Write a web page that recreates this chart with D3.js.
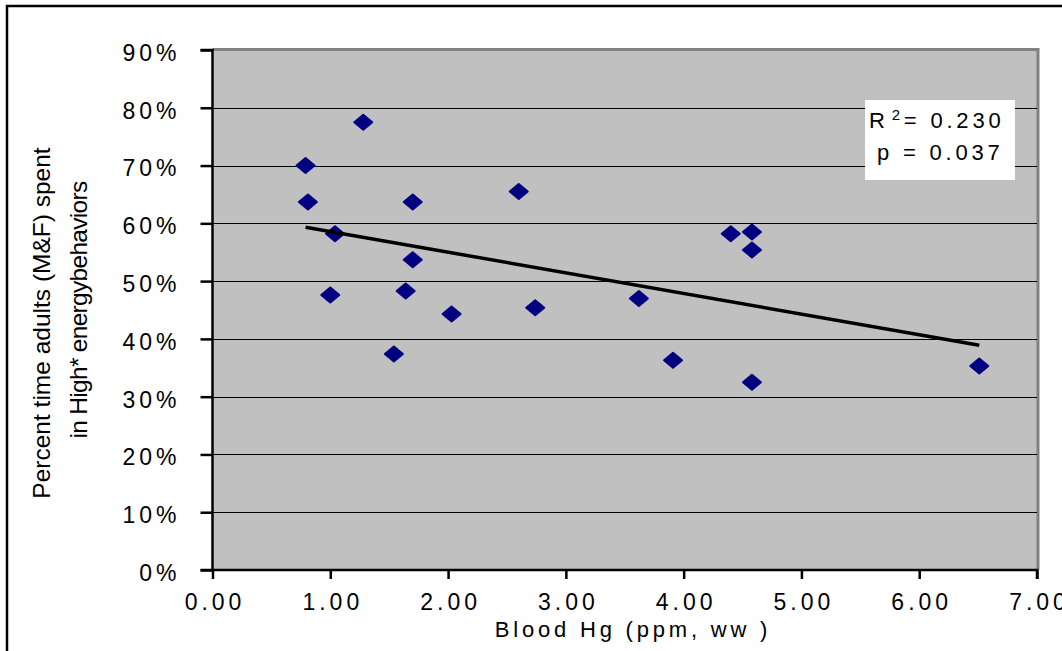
<!DOCTYPE html>
<html>
<head>
<meta charset="utf-8">
<script src="https://cdn.jsdelivr.net/npm/d3@7"></script>
<style>
  html, body { margin: 0; padding: 0; background: #fff; }
  svg { display: block; }
  text { font-family: "Liberation Sans", Arial, sans-serif; fill: #000; }
</style>
</head>
<body>
<svg id="chart" width="1062" height="651"></svg>
<script>
// Blood mercury (ppm, wet weight) per site
const bloodHg = [0.79, 0.81, 1.28, 1.04, 1.00, 1.70, 1.70, 1.64, 1.54, 2.03,
                 2.60, 2.74, 3.62, 3.91, 4.40, 4.58, 4.58, 4.58, 6.51];
// Share of time adults spent in high-energy behaviours (%)
const pctHighEnergy = [70.0, 63.7, 77.5, 58.2, 47.6, 63.7, 53.7, 48.3, 37.4, 44.3,
                       65.5, 45.4, 47.0, 36.3, 58.2, 58.5, 55.4, 32.5, 35.3];
const xTicks = [0, 1, 2, 3, 4, 5, 6, 7];
const yTicks = [0, 10, 20, 30, 40, 50, 60, 70, 80, 90];
const statLines = ["0.230", "0.037"];

const svg = d3.select("#chart");
const plot = { left: 212.5, top: 50, right: 1037, bottom: 570 };

const x = d3.scaleLinear().domain([0, 7]).range([plot.left, plot.right]);
const y = d3.scaleLinear().domain([0, 90]).range([plot.bottom, plot.top]);

// outer frame (only the left and top edges fall inside the view)
svg.append("rect")
  .attr("x", 7).attr("y", 6).attr("width", 1100).attr("height", 700)
  .attr("fill", "none").attr("stroke", "#000").attr("stroke-width", 2.5);

// plot area background with a shaded top/right edge
svg.append("rect")
  .attr("x", plot.left).attr("y", plot.top)
  .attr("width", plot.right - plot.left).attr("height", plot.bottom - plot.top)
  .attr("fill", "#c0c0c0");
svg.append("path")
  .attr("d", `M${plot.left},${plot.top - 0.5}H${plot.right + 1}V${plot.bottom}`)
  .attr("fill", "none").attr("stroke", "#808080").attr("stroke-width", 3);

// horizontal gridlines
svg.append("g").selectAll("line")
  .data(yTicks.filter(d => d > 0 && d < 90))
  .join("line")
  .attr("x1", plot.left).attr("x2", plot.right)
  .attr("y1", d => Math.round(y(d)) + 0.5).attr("y2", d => Math.round(y(d)) + 0.5)
  .attr("stroke", "#000").attr("stroke-width", 1.2);

// axes
const yAxis = d3.axisLeft(y).tickValues(yTicks).tickSize(12).tickPadding(20)
  .tickFormat(d => d + "%");
const xAxis = d3.axisBottom(x).tickValues(xTicks).tickSize(9).tickPadding(15)
  .tickFormat(d3.format(".2f"));

const gy = svg.append("g").attr("transform", `translate(${plot.left},0)`).call(yAxis);
const gx = svg.append("g").attr("transform", `translate(0,${plot.bottom})`).call(xAxis);

[gy, gx].forEach(g => {
  g.select(".domain").attr("stroke", "#000").attr("stroke-width", 2.5);
  g.selectAll(".tick line").attr("stroke", "#000").attr("stroke-width", 2.5);
  g.selectAll(".tick text")
    .attr("fill", "#000")
    .style("font-family", '"Liberation Sans", Arial, sans-serif')
    .style("font-size", "23px")
    .style("letter-spacing", "4px");
});
gy.select(".domain").attr("d", `M-12,${plot.top}H0V${plot.bottom}`);
gy.selectAll(".tick text").attr("dy", "0.45em");
gx.select(".domain").attr("d", `M${plot.left - 12},0H${plot.right}V9`);
gx.selectAll(".tick text").attr("dx", "2px");

// least-squares trend line over the observed range
const n = bloodHg.length;
const mx = d3.mean(bloodHg), my = d3.mean(pctHighEnergy);
let sxy = 0, sxx = 0;
for (let i = 0; i < n; i++) {
  sxy += (bloodHg[i] - mx) * (pctHighEnergy[i] - my);
  sxx += (bloodHg[i] - mx) ** 2;
}
const slope = sxy / sxx, intercept = my - slope * mx;
const [x0, x1] = d3.extent(bloodHg);

// data markers (rounded diamonds)
const diamond = "M0,-7.5L9,0L0,7.5L-9,0Z";
svg.append("g").selectAll("path")
  .data(d3.range(n))
  .join("path")
  .attr("d", diamond)
  .attr("transform", i => `translate(${x(bloodHg[i])},${y(pctHighEnergy[i])})`)
  .attr("fill", "#000080")
  .attr("stroke", "#000080").attr("stroke-width", 2).attr("stroke-linejoin", "round");

svg.append("line")
  .attr("x1", x(x0)).attr("y1", y(intercept + slope * x0))
  .attr("x2", x(x1)).attr("y2", y(intercept + slope * x1))
  .attr("stroke", "#000").attr("stroke-width", 3.5);

// statistics box
svg.append("rect")
  .attr("x", 865).attr("y", 100).attr("width", 150).attr("height", 80)
  .attr("fill", "#fff");
const r2 = svg.append("text").attr("x", 869).attr("y", 128)
  .style("font-size", "22px").style("letter-spacing", "3.8px");
r2.append("tspan").text("R");
r2.append("tspan").attr("dx", "3").attr("dy", "-8").style("font-size", "15px").text("2");
r2.append("tspan").attr("dy", "8").text("= " + statLines[0]);
svg.append("text").attr("x", 877).attr("y", 160)
  .style("font-size", "22px").style("letter-spacing", "3.8px")
  .text("p = " + statLines[1]);

// axis titles
svg.append("text")
  .attr("x", 633).attr("y", 637)
  .attr("text-anchor", "middle")
  .style("font-size", "22px").style("letter-spacing", "3.8px")
  .text("Blood Hg (ppm, ww )");

const yTitle = svg.append("g").style("font-size", "24.5px");
yTitle.append("text")
  .attr("transform", "translate(50,323) rotate(-90)")
  .attr("text-anchor", "middle")
  .text("Percent time adults (M&F) spent");
yTitle.append("text")
  .attr("transform", "translate(87,310) rotate(-90)")
  .attr("text-anchor", "middle")
  .style("letter-spacing", "-0.7px")
  .text("in High* energybehaviors");
</script>
</body>
</html>
